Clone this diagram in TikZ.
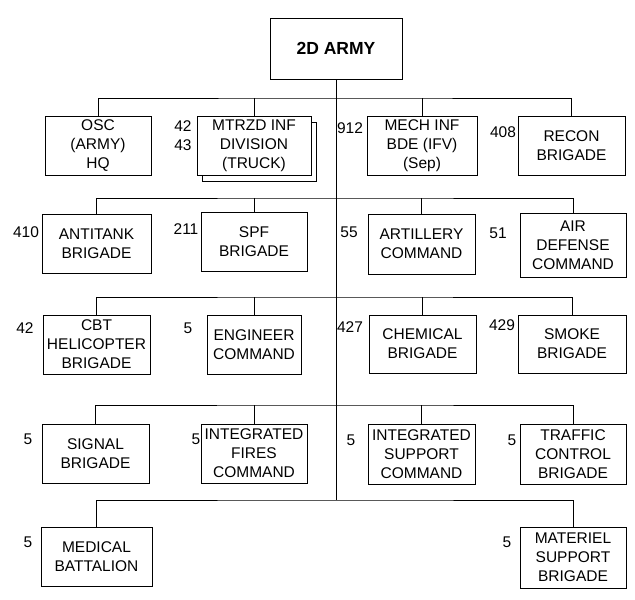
\documentclass[tikz,border=0pt]{standalone}
\usepackage{fontspec}
\setmainfont{Liberation Sans}
\usetikzlibrary{shadows}

\begin{document}
\begin{tikzpicture}[x=1pt, y=-1pt, line width=0.7pt,
		unit/.style={draw, fill=white, align=center, inner sep=1pt,
			minimum width=106pt, minimum height=59pt,
			font=\fontsize{15.5}{19}\selectfont},
		num/.style={inner sep=0pt, align=center,
			font=\fontsize{15.5}{19}\selectfont}]
	\useasboundingbox (0,0) rectangle (635,600);

	\node[unit, minimum width=132pt, minimum height=61pt,
		font=\fontsize{17.5}{20}\selectfont\bfseries] (army) at (336,48.5) {2D ARMY};

	% first row
	\node[unit] (osc) at (98,146) {OSC\\(ARMY)\\HQ};
	\node[unit, minimum width=114pt,
		copy shadow={shadow xshift=5pt, shadow yshift=-6pt}] (mtrzd) at (254,146) {MTRZD INF\\DIVISION\\(TRUCK)};
	\node[unit, minimum width=110pt] (mech) at (422,146) {MECH INF\\BDE (IFV)\\(Sep)};
	\node[unit, minimum width=107pt] (recon) at (571.5,146) {RECON\\BRIGADE};

	% second row
	\node[unit, minimum width=109pt] (antitank) at (96.5,243.5) {ANTITANK\\BRIGADE};
	\node[unit] (spf) at (254,242) {SPF\\BRIGADE};
	\node[unit, minimum width=107pt, minimum height=60pt] (artillery) at (421.5,244) {ARTILLERY\\COMMAND};
	\node[unit, minimum height=64pt] (airdef) at (573,245) {AIR\\DEFENSE\\COMMAND};

	% third row
	\node[unit, minimum width=107pt] (cbt) at (96.5,344.5) {CBT\\HELICOPTER\\BRIGADE};
	\node[unit, minimum width=94pt] (engineer) at (254,344.5) {ENGINEER\\COMMAND};
	\node[unit, minimum width=107pt, minimum height=58pt] (chemical) at (422.5,344) {CHEMICAL\\BRIGADE};
	\node[unit, minimum width=108pt, minimum height=58pt] (smoke) at (572,344) {SMOKE\\BRIGADE};

	% fourth row
	\node[unit, minimum width=107pt] (signal) at (95.5,453.5) {SIGNAL\\BRIGADE};
	\node[unit] (intfires) at (254,453.5) {INTEGRATED\\FIRES\\COMMAND};
	\node[unit, minimum width=107pt, minimum height=60pt] (intsupport) at (421.5,454) {INTEGRATED\\SUPPORT\\COMMAND};
	\node[unit, minimum height=60pt] (traffic) at (573,454) {TRAFFIC\\CONTROL\\BRIGADE};

	% last row
	\node[unit, minimum width=111pt] (medical) at (96.5,556.5) {MEDICAL\\BATTALION};
	\node[unit, minimum height=61pt] (materiel) at (573,557.5) {MATERIEL\\SUPPORT\\BRIGADE};

	% numbers
	\node[num] (n4243) at (183,136) {42\\43};
	\node[num] (n912) at (350,128) {912};
	\node[num] (n408) at (503,132) {408};
	\node[num] (n410) at (26,232) {410};
	\node[num] (n211) at (186,229) {211};
	\node[num] (n55) at (349,232) {55};
	\node[num] (n51) at (498,233) {51};
	\node[num] (n42) at (25,328) {42};
	\node[num] (n5a) at (188,328) {5};
	\node[num] (n427) at (350,327) {427};
	\node[num] (n429) at (502,325) {429};
	\node[num] (n5b) at (28,439) {5};
	\node[num] (n5c) at (196,439) {5};
	\node[num] (n5d) at (351,440) {5};
	\node[num] (n5e) at (512,440) {5};
	\node[num] (n5f) at (28,542) {5};
	\node[num] (n5g) at (507,542) {5};

	\coordinate (bus1) at (336,98);
	\coordinate (bus2) at (336,198);
	\coordinate (bus3) at (336,297);
	\coordinate (bus4) at (336,405);
	\coordinate (bus5) at (336,500);

	\draw (army.south) -- (bus5);
	\draw (osc.north) |- (bus1) -| (recon.north);
	\draw (mtrzd.north) -- (mtrzd.north |- bus1);
	\draw (mech.north) -- (mech.north |- bus1);
	\draw (antitank.north) |- (bus2) -| (airdef.north);
	\draw (spf.north) -- (spf.north |- bus2);
	\draw (artillery.north) -- (artillery.north |- bus2);
	\draw (cbt.north) |- (bus3) -| (smoke.north);
	\draw (engineer.north) -- (engineer.north |- bus3);
	\draw (chemical.north) -- (chemical.north |- bus3);
	\draw (signal.north) |- (bus4) -| (traffic.north);
	\draw (intfires.north) -- (intfires.north |- bus4);
	\draw (intsupport.north) -- (intsupport.north |- bus4);
	\draw (medical.north) |- (bus5) -| (materiel.north);
\end{tikzpicture}
\end{document}
